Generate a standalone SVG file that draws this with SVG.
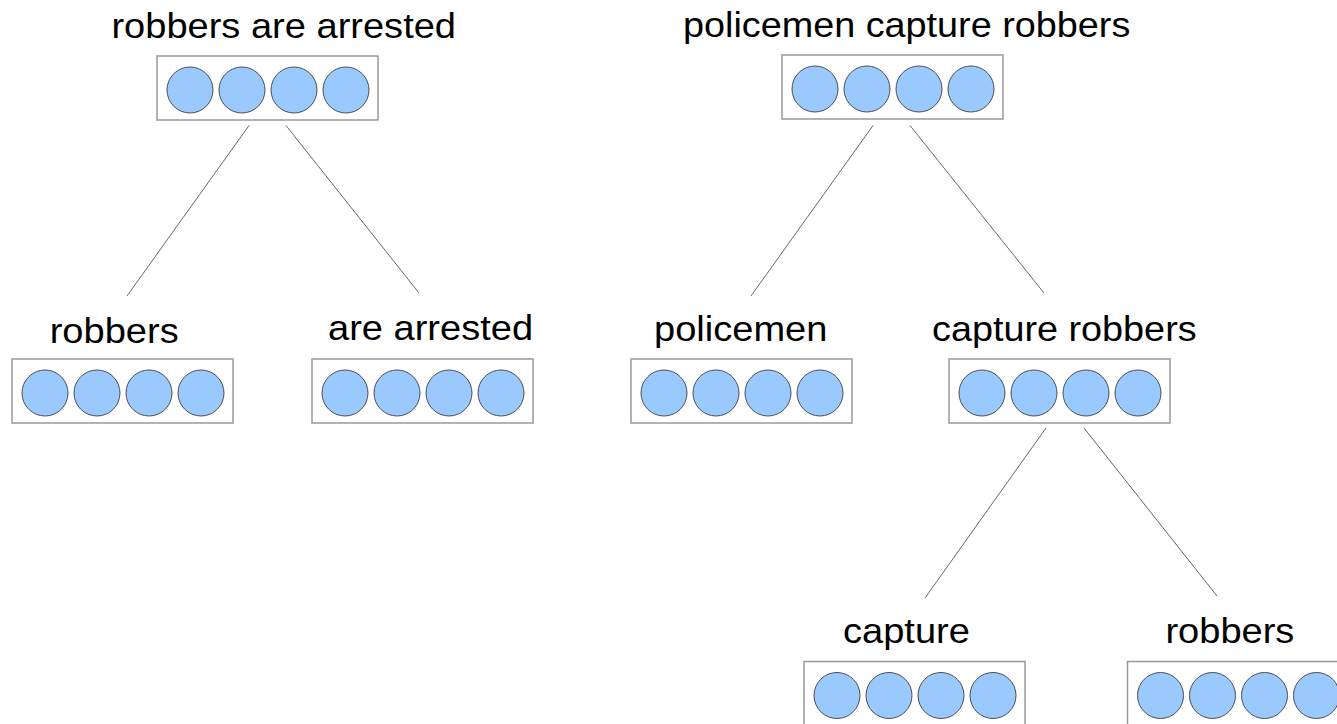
<svg xmlns="http://www.w3.org/2000/svg" width="1337" height="724" viewBox="0 0 1337 724">
<style>
.lbl{font-family:"Liberation Sans",Arial,sans-serif;font-size:35px;fill:#000}
.box{fill:#fff;stroke:#999;stroke-width:1.5}
.u{fill:#99c9ff;stroke:#4d4d4d;stroke-width:1}
.edge{stroke:#666;stroke-width:1;fill:none}
</style>
<defs>
<g id="vec">
<rect class="box" x="0" y="0" width="221" height="64"/>
<circle class="u" cx="33" cy="34" r="23"/>
<circle class="u" cx="85" cy="34" r="23"/>
<circle class="u" cx="137" cy="34" r="23"/>
<circle class="u" cx="189" cy="34" r="23"/>
</g>
</defs>
<rect width="1337" height="724" fill="#fff"/>
<g id="connectors">
<line class="edge" x1="249" y1="125.5" x2="127" y2="296"/>
<line class="edge" x1="286" y1="125.5" x2="419" y2="293"/>
<line class="edge" x1="873" y1="125.5" x2="751" y2="296"/>
<line class="edge" x1="910" y1="125.5" x2="1044" y2="293"/>
<line class="edge" x1="1046" y1="428" x2="925" y2="598"/>
<line class="edge" x1="1084" y1="428" x2="1217" y2="596"/>
</g>
<g id="n-robbers-are-arrested">
<text class="lbl" transform="translate(111.4,37.5) scale(1.087,1)">robbers are arrested</text>
<use href="#vec" x="157" y="56"/>
</g>
<g id="n-policemen-capture-robbers">
<text class="lbl" transform="translate(683,37) scale(1.08,1)">policemen capture robbers</text>
<use href="#vec" x="782" y="55"/>
</g>
<g id="n-robbers-1">
<text class="lbl" transform="translate(49.7,342.5) scale(1.087,1)">robbers</text>
<use href="#vec" x="12" y="359"/>
</g>
<g id="n-are-arrested">
<text class="lbl" transform="translate(328,340) scale(1.087,1)">are arrested</text>
<use href="#vec" x="312" y="359"/>
</g>
<g id="n-policemen">
<text class="lbl" transform="translate(654,341) scale(1.087,1)">policemen</text>
<use href="#vec" x="631" y="359"/>
</g>
<g id="n-capture-robbers">
<text class="lbl" transform="translate(932,341) scale(1.08,1)">capture robbers</text>
<use href="#vec" x="949" y="359"/>
</g>
<g id="n-capture">
<text class="lbl" transform="translate(843,643) scale(1.087,1)">capture</text>
<use href="#vec" x="804" y="661.5"/>
</g>
<g id="n-robbers-2">
<text class="lbl" transform="translate(1165.4,643) scale(1.087,1)">robbers</text>
<use href="#vec" x="1127.5" y="661.5"/>
</g>
</svg>
